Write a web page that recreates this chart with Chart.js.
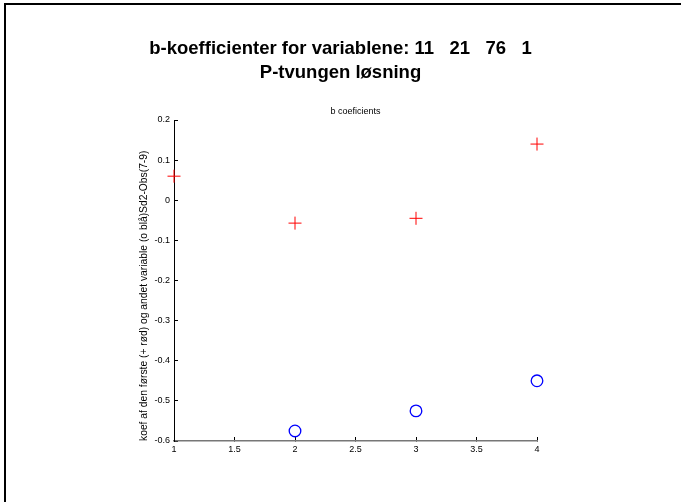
<!DOCTYPE html>
<html>
<head>
<meta charset="utf-8">
<script src="https://cdn.jsdelivr.net/npm/chart.js@4.4.1/dist/chart.umd.min.js"></script>
<style>
  html, body { margin: 0; padding: 0; background: #fff; }
  #wrap { width: 681px; height: 502px; }
</style>
</head>
<body>
<div id="wrap"><canvas id="chart" width="681" height="502"></canvas></div>
<script>
// data
var firstVars = [1, 2, 3, 4];
var firstCoef = [0.06, -0.057, -0.045, 0.14];
var secondVars = [2, 3, 4];
var secondCoef = [-0.575, -0.525, -0.45];
var xTicks = [1, 1.5, 2, 2.5, 3, 3.5, 4];
var yTicks = [-0.6, -0.5, -0.4, -0.3, -0.2, -0.1, 0, 0.1, 0.2];

var mainTitle = ['b-koefficienter for variablene: 11   21   76   1', 'P-tvungen løsning'];
var subTitle = 'b coeficients';
var yTitle = 'koef af den første (+ rød) og andet variable (o blå)Sd2-Obs(7-9)';

var FONT = '"Liberation Sans", Arial, sans-serif';

function toPoints(xs, ys) {
	var out = [];
	for (var i = 0; i < xs.length; i++) {
		out.push({ x: xs[i], y: ys[i] });
	}
	return out;
}

// white page + the black frame on top and left
var framePlugin = {
	id: 'frame',
	beforeDraw: function (chart) {
		var ctx = chart.ctx;
		ctx.save();
		ctx.fillStyle = '#fff';
		ctx.fillRect(0, 0, chart.width, chart.height);
		ctx.fillStyle = '#000';
		ctx.fillRect(4, 3, chart.width - 4, 2);
		ctx.fillRect(4, 3, 2, chart.height - 3);
		ctx.restore();
	}
};

var ctx = document.getElementById('chart');
new Chart(ctx, {
	type: 'scatter',
	data: {
		datasets: [{
			label: 'første',
			data: toPoints(firstVars, firstCoef),
			pointStyle: 'cross',
			pointRadius: 6.5,
			pointBorderWidth: 1,
			pointBorderColor: '#ff0000',
			borderColor: '#ff0000',
			backgroundColor: '#ff0000',
			clip: false,
			xAxisID: 'x',
			yAxisID: 'y'
		}, {
			label: 'andet',
			data: toPoints(secondVars, secondCoef),
			pointStyle: 'circle',
			pointRadius: 5.8,
			pointBorderWidth: 1.3,
			pointBorderColor: '#0000ff',
			pointBackgroundColor: 'rgba(0,0,0,0)',
			borderColor: '#0000ff',
			backgroundColor: 'rgba(0,0,0,0)',
			clip: false,
			xAxisID: 'x',
			yAxisID: 'y'
		}]
	},
	options: {
		responsive: false,
		animation: false,
		devicePixelRatio: 1,
		layout: { padding: 0 },
		plugins: {
			legend: { display: false },
			tooltip: { enabled: false },
			title: {
				display: true,
				text: mainTitle,
				color: '#000',
				font: { family: FONT, size: 18.5, weight: 'bold', lineHeight: '24px' },
				padding: { top: 36.5, bottom: 0 }
			},
			subtitle: {
				display: true,
				fullSize: false,
				text: subTitle,
				color: '#000',
				font: { family: FONT, size: 9, lineHeight: 1.2 },
				padding: { top: 22.1, bottom: 2.6 }
			}
		},
		scales: {
			x: {
				type: 'linear',
				position: 'bottom',
				min: 1,
				max: 4,
				afterBuildTicks: function (s) {
					s.ticks = xTicks.map(function (v) { return { value: v }; });
				},
				afterFit: function (s) { s.height = 61; },
				ticks: {
					color: '#000',
					font: { family: FONT, size: 9 },
					padding: 7,
					maxRotation: 0,
					autoSkip: false,
					callback: function (v) { return String(v); }
				},
				grid: { drawOnChartArea: false, drawTicks: true, tickLength: -4, color: '#000', lineWidth: 1 },
				border: { display: true, color: '#777', width: 1.5 }
			},
			y: {
				type: 'linear',
				position: 'left',
				min: -0.6,
				max: 0.2,
				afterBuildTicks: function (s) {
					s.ticks = yTicks.map(function (v) { return { value: v }; });
				},
				afterFit: function (s) { s.width = 174; },
				ticks: {
					color: '#000',
					font: { family: FONT, size: 9 },
					padding: 8,
					autoSkip: false,
					callback: function (v) { return String(v); }
				},
				grid: { drawOnChartArea: false, drawTicks: true, tickLength: -4, color: '#000', lineWidth: 1 },
				border: { display: true, color: '#000', width: 1 },
				title: {
					display: true,
					text: yTitle,
					align: 'start',
					color: '#000',
					font: { family: FONT, size: 10.3, lineHeight: 1.2 },
					padding: { top: 137.8, bottom: 0 }
				}
			},
			// empty right margin so the plot ends where the reference does
			yRight: {
				type: 'linear',
				position: 'right',
				display: true,
				afterFit: function (s) { s.width = 144; },
				ticks: { display: false },
				grid: { display: false },
				border: { display: false }
			}
		}
	},
	plugins: [framePlugin]
});
</script>
</body>
</html>
